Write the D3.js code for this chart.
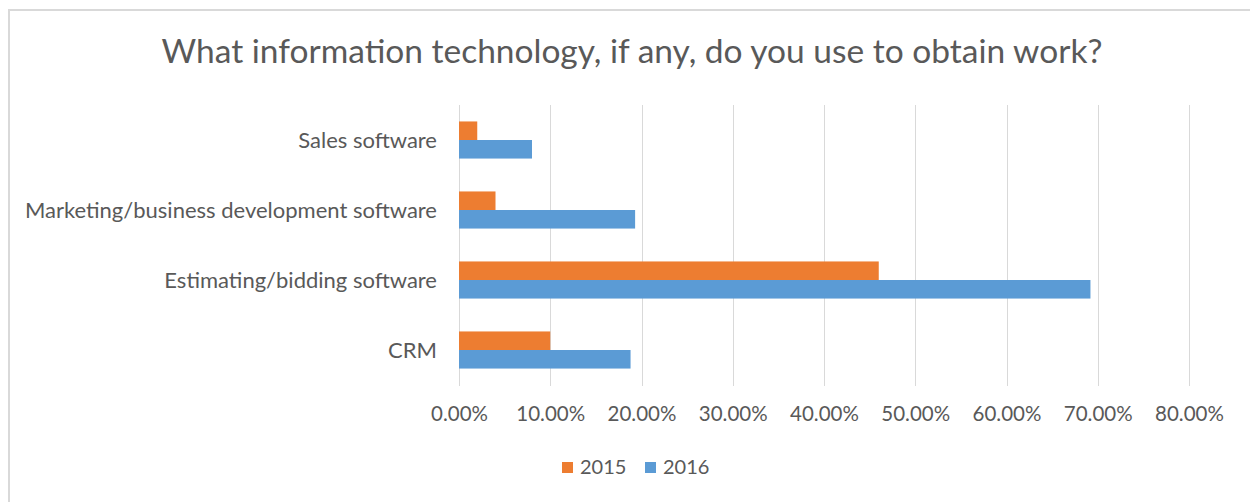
<!DOCTYPE html>
<html>
<head>
<meta charset="utf-8">
<script src="https://cdnjs.cloudflare.com/ajax/libs/d3/7.8.5/d3.min.js"></script>
<style>
  body { margin: 0; background: #fff; }
  text { font-family: Lato, 'Open Sans', sans-serif; fill: #595959; }
</style>
</head>
<body>
<div id="chart"></div>
<script>
const W = 1250, H = 502;

// data
const categories = ["Sales software", "Marketing/business development software", "Estimating/bidding software", "CRM"];
const series = ["2015", "2016"];
const values2015 = [0.02, 0.04, 0.46, 0.10];
const values2016 = [0.08, 0.193, 0.692, 0.188];
const tickValues = [0, 0.1, 0.2, 0.3, 0.4, 0.5, 0.6, 0.7, 0.8];
const colors = ["#ED7D31", "#5B9BD5"];

const rows = categories.map((c, i) => ({ cat: c, vals: [values2015[i], values2016[i]] }));

const svg = d3.select("#chart").append("svg")
  .attr("width", W)
  .attr("height", H);

// chart frame
svg.append("rect")
  .attr("x", 9).attr("y", 10)
  .attr("width", W + 10).attr("height", H + 10)
  .style("fill", "#fff")
  .style("stroke", "#d9d9d9")
  .style("stroke-width", 2);

svg.append("text")
  .attr("x", 632).attr("y", 63)
  .attr("text-anchor", "middle")
  .style("font-size", "33.5px")
  .text("What information technology, if any, do you use to obtain work?");

const x = d3.scaleLinear().domain([0, 0.8]).range([459, 1189]);
const y = d3.scaleBand().domain(categories).range([105, 385])
  .paddingInner(0.47).paddingOuter(0.235);
const ySub = d3.scaleBand().domain(series).range([0, y.bandwidth()]);

// gridlines
svg.append("g").selectAll("line")
  .data(tickValues)
  .join("line")
  .attr("x1", d => Math.round(x(d)) + 0.5)
  .attr("x2", d => Math.round(x(d)) + 0.5)
  .attr("y1", 105).attr("y2", 386)
  .style("stroke", "#d9d9d9")
  .style("stroke-width", 1);

// tick labels
const xAxis = d3.axisBottom(x).tickValues(tickValues).tickFormat(d3.format(".2%")).tickSize(0).tickPadding(0);
const gx = svg.append("g").attr("transform", "translate(0,421)").call(xAxis);
gx.select(".domain").remove();
gx.selectAll("text")
  .attr("dy", 0)
  .style("font-size", "20.5px")
  .style("font-family", "Lato, 'Open Sans', sans-serif")
  .style("fill", "#595959");

// category labels
const yAxis = d3.axisLeft(y).tickSize(0).tickPadding(0);
const gy = svg.append("g").attr("transform", "translate(437,0)").call(yAxis);
gy.select(".domain").remove();
gy.selectAll("text")
  .attr("dy", "0.35em")
  .style("font-size", "22px")
  .style("font-family", "Lato, 'Open Sans', sans-serif")
  .style("fill", "#595959");

// bars
const group = svg.append("g").selectAll("g")
  .data(rows)
  .join("g")
  .attr("transform", d => "translate(0," + y(d.cat) + ")");

group.selectAll("rect")
  .data(d => d.vals.map((v, i) => ({ key: series[i], v: v, i: i })))
  .join("rect")
  .attr("x", x(0))
  .attr("y", d => ySub(d.key))
  .attr("width", d => x(d.v) - x(0))
  .attr("height", ySub.bandwidth())
  .style("fill", d => colors[d.i]);

// legend
const legend = svg.append("g").selectAll("g")
  .data(series)
  .join("g")
  .attr("transform", (d, i) => "translate(" + [562, 645][i] + ",462)");

legend.append("rect")
  .attr("width", 11).attr("height", 11)
  .style("fill", (d, i) => colors[i]);

legend.append("text")
  .attr("x", 18).attr("y", 12)
  .style("font-size", "20px")
  .text(d => d);
</script>
</body>
</html>
